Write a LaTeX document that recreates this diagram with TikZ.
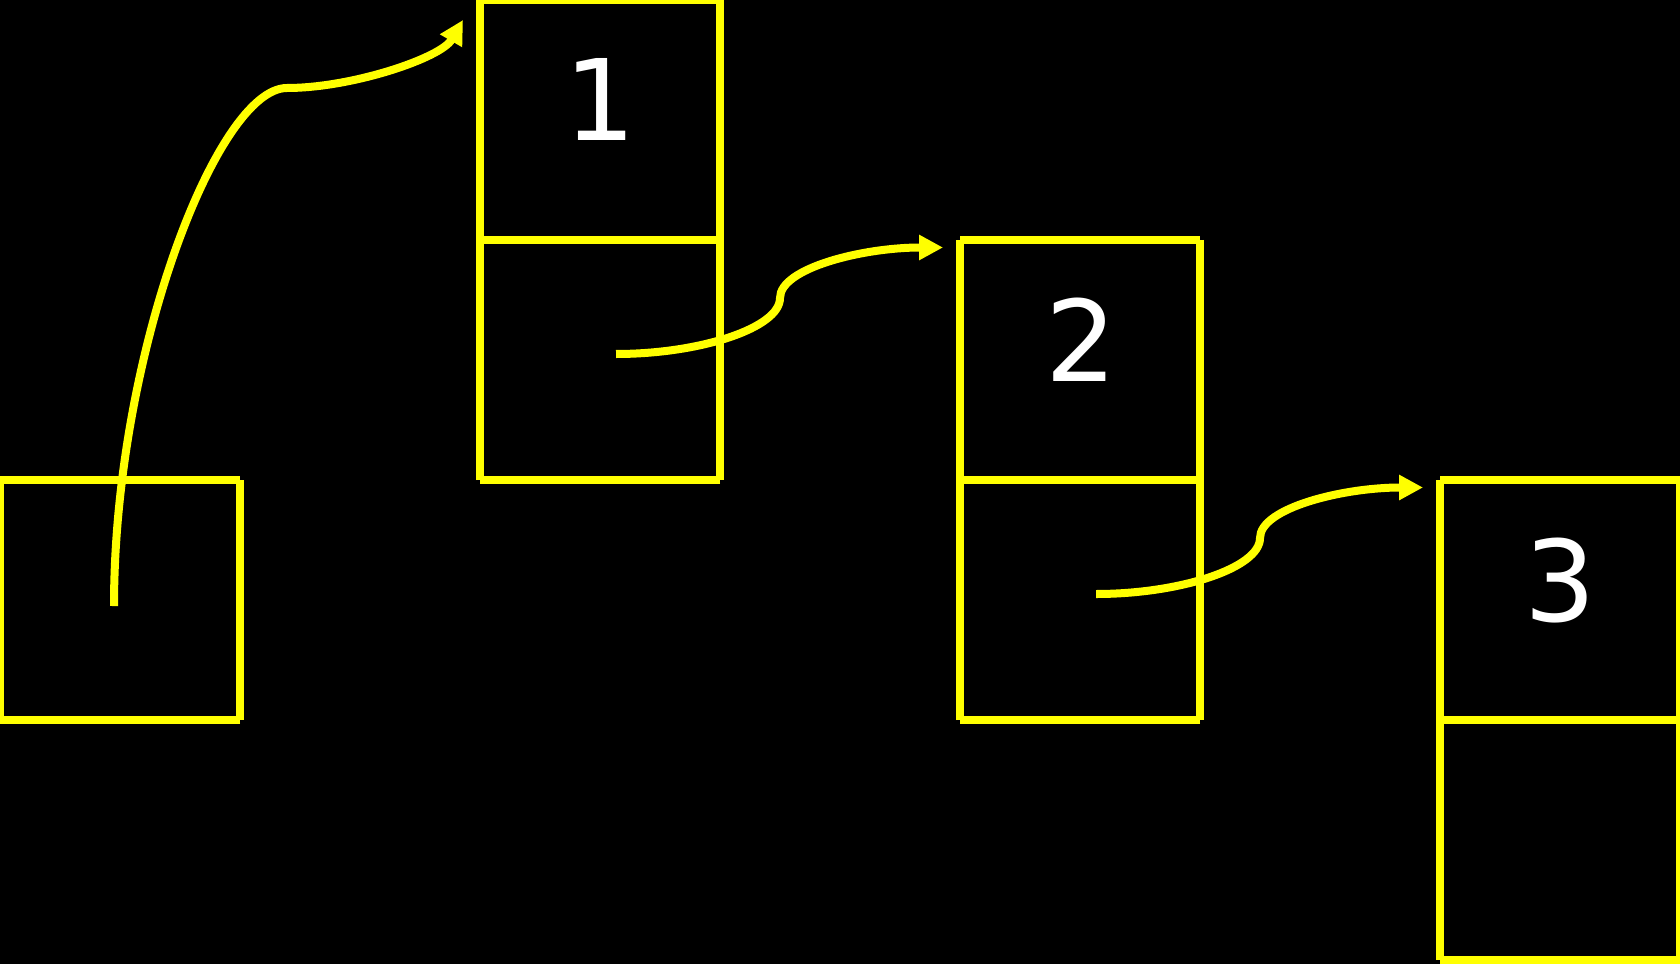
\documentclass[tikz,border=0pt]{standalone}
\usepackage{fontspec}
\setmainfont{DejaVu Sans}
\usetikzlibrary{arrows.meta}
\definecolor{lineyellow}{RGB}{255,255,0}
\newcommand\cellbox[2]{%
  \draw[boxline] (#1,#2) -- (#1+240,#2);
  \draw[boxline] (#1+240,#2) -- (#1+240,#2+240);
  \draw[boxline] (#1+240,#2+240) -- (#1,#2+240);
  \draw[boxline] (#1,#2+240) -- (#1,#2);
}
\tikzset{
  boxline/.style={draw=lineyellow, line width=0.08cm, line cap=butt},
  link/.style={draw=lineyellow, line width=0.08cm, line cap=butt,
    -{Triangle[length=0.24cm,width=0.24cm]}},
  digit/.style={text=white, anchor=base, inner sep=0pt,
    font=\fontsize{32pt}{38pt}\selectfont}
}
\begin{document}
\begin{tikzpicture}[x=0.01cm,y=-0.01cm]
  \fill[black] (0,0) rectangle (1680,964);
  \useasboundingbox (0,0) rectangle (1680,964);
  % boxes
  \cellbox{0}{480}
  \cellbox{480}{0}
  \cellbox{480}{240}
  \cellbox{960}{240}
  \cellbox{960}{480}
  \cellbox{1440}{480}
  \cellbox{1440}{720}
  % numbers
  \node[digit] (n1) at (600,141) {1};
  \node[digit] (n2) at (1081,381) {2};
  \node[digit] (n3) at (1560,621) {3};
  % connector points
  \coordinate (s0) at (114,606);
  \coordinate (m0) at (287,88);
  \coordinate (t0) at (463,20);
  \coordinate (s1) at (616,354);
  \coordinate (m1) at (780,298);
  \coordinate (t1) at (943,247.5);
  \coordinate (s2) at (1096,594);
  \coordinate (m2) at (1260,538);
  \coordinate (t2) at (1423,487.5);
  % connectors
  \draw[link] (s0) .. controls +(0,-250) and +(-70,0) .. (m0)
                   .. controls +(65,0) and +(-22,38) .. (t0);
  \draw[link] (s1) .. controls +(84,0) and +(0,30) .. (m1)
                   .. controls +(0,-30) and +(-80,0) .. (t1);
  \draw[link] (s2) .. controls +(84,0) and +(0,30) .. (m2)
                   .. controls +(0,-30) and +(-80,0) .. (t2);
\end{tikzpicture}
\end{document}
